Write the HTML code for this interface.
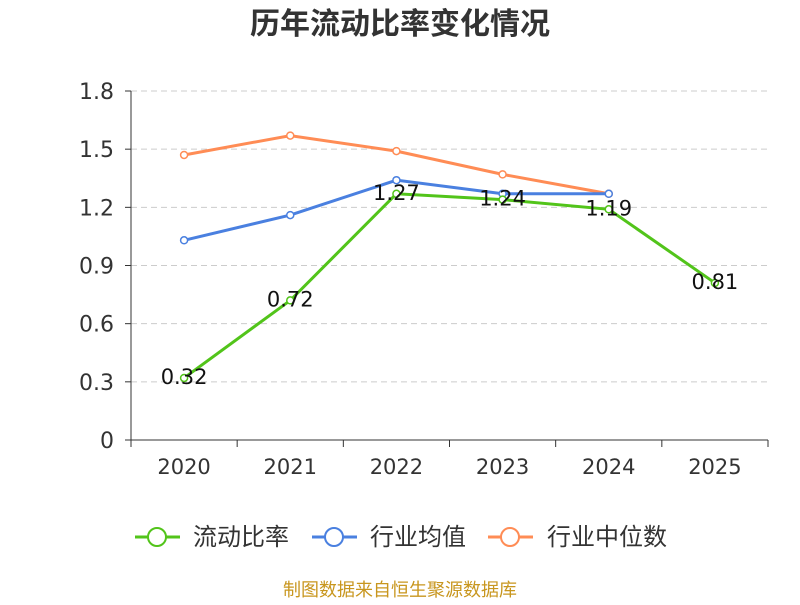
<!DOCTYPE html>
<html><head><meta charset="utf-8"><style>
body{margin:0;background:#fff;}
svg text{font-family:"DejaVu Sans","Noto Sans CJK SC",sans-serif;}
</style></head><body>
<svg id="chart" width="800" height="600" xmlns="http://www.w3.org/2000/svg">
<text x="400" y="34" text-anchor="middle" font-size="30" font-weight="bold" fill="#333" style="font-family:'Noto Sans CJK SC',sans-serif">历年流动比率变化情况</text>
<g id="grid"></g><g id="axes"></g><g id="series"></g>
<g style="font-family:'Noto Sans CJK SC',sans-serif">
<g><line x1="135" y1="537" x2="180" y2="537" stroke="#52c41a" stroke-width="3"/><circle cx="157" cy="537" r="9" fill="#fff" stroke="#52c41a" stroke-width="2"/><text x="193" y="545" font-size="24" fill="#333" style="font-family:'Noto Sans CJK SC',sans-serif">流动比率</text></g>
<g><line x1="312" y1="537" x2="357" y2="537" stroke="#4a80e0" stroke-width="3"/><circle cx="334" cy="537" r="9" fill="#fff" stroke="#4a80e0" stroke-width="2"/><text x="370" y="545" font-size="24" fill="#333" style="font-family:'Noto Sans CJK SC',sans-serif">行业均值</text></g>
<g><line x1="488" y1="537" x2="533" y2="537" stroke="#ff8c55" stroke-width="3"/><circle cx="510" cy="537" r="9" fill="#fff" stroke="#ff8c55" stroke-width="2"/><text x="547" y="545" font-size="24" fill="#333" style="font-family:'Noto Sans CJK SC',sans-serif">行业中位数</text></g>
</g>
<text x="400" y="596" text-anchor="middle" font-size="18" fill="#c8961e" style="font-family:'Noto Sans CJK SC',sans-serif">制图数据来自恒生聚源数据库</text>
</svg>
<script>
const categories=["2020","2021","2022","2023","2024","2025"];
const currentRatio=[0.32,0.72,1.27,1.24,1.19,0.81];
const industryAvg=[1.03,1.16,1.34,1.27,1.27,null];
const industryMedian=[1.47,1.57,1.49,1.37,1.27,null];
const yTicks=[0,0.3,0.6,0.9,1.2,1.5,1.8];
const yTickLabels=["0","0.3","0.6","0.9","1.2","1.5","1.8"];
const NS="http://www.w3.org/2000/svg";
const x0=131,x1=768,yBase=440,yTop=91,yMax=1.8;
const band=(x1-x0)/categories.length;
const X=i=>x0+band*(i+0.5);
const Y=v=>yBase-(v/yMax)*(yBase-yTop);
function mk(tag,attrs,parent){const e=document.createElementNS(NS,tag);for(const k in attrs)e.setAttribute(k,attrs[k]);document.getElementById(parent).appendChild(e);return e;}
yTicks.forEach((t,i)=>{
 if(t>0){const g=mk('line',{x1:x0,x2:x1,y1:Y(t),y2:Y(t),stroke:'#ccc','stroke-dasharray':'6,4'},'grid');
 
 }
 const tk=mk('line',{x1:x0-6,x2:x0,y1:Y(t),y2:Y(t),stroke:'#333'},'axes');
 
 
 const tx=mk('text',{x:x0-17,y:Y(t)+8,'text-anchor':'end','font-size':'22',fill:'#333'},'axes');tx.textContent=yTickLabels[i];
 
 
});
const ya=mk('line',{x1:x0,x2:x0,y1:yTop,y2:yBase,stroke:'#333'},'axes');


const xa=mk('line',{x1:x0,x2:x1,y1:yBase,y2:yBase,stroke:'#333'},'axes');


for(let i=0;i<=categories.length;i++){const t=mk('line',{x1:x0+band*i,x2:x0+band*i,y1:yBase,y2:yBase+7,stroke:'#333'},'axes');
 
 }
categories.forEach((c,i)=>{const t=mk('text',{x:X(i),y:yBase+34,'text-anchor':'middle','font-size':'21',fill:'#333'},'axes');t.textContent=c;
 
 });
function series(vals,color,name,labels){
 const pts=vals.map((v,i)=>v==null?null:[X(i),Y(v)]).filter(p=>p);
 const pl=mk('polyline',{points:pts.map(p=>p.join(',')).join(' '),fill:'none',stroke:color,'stroke-width':3},'series');
 
 
 vals.forEach((v,i)=>{if(v==null)return;
  const c=mk('circle',{cx:X(i),cy:Y(v),r:3.5,fill:'#fff',stroke:color,'stroke-width':1.5},'series');
  
  
  if(labels){const t=mk('text',{x:X(i),y:Y(v)+6,'text-anchor':'middle','font-size':'21',fill:'#111'},'series');t.textContent=v.toFixed(2);
   
   }
 });
}
series(industryMedian,'#ff8c55','industry-median',false);
series(industryAvg,'#4a80e0','industry-average',false);
series(currentRatio,'#52c41a','current-ratio',true);
</script>
</body></html>
